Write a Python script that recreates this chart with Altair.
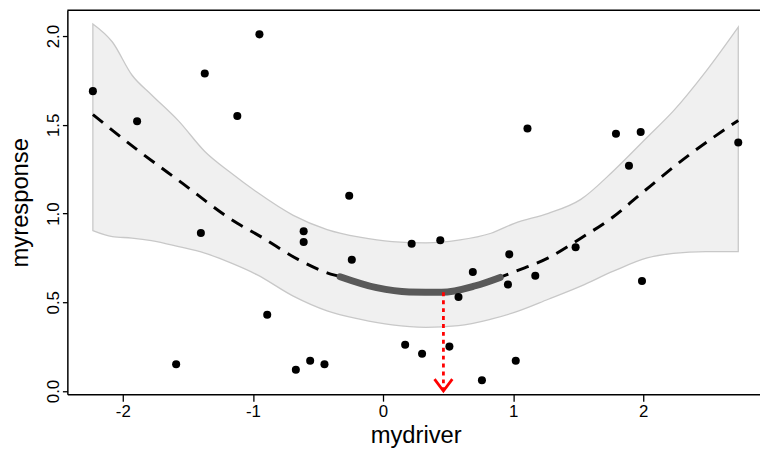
import altair as alt
import pandas as pd

# observed points
pt_x = [-2.23, -1.89, -1.59, -1.40, -1.37, -1.12, -0.95, -0.89, -0.67, -0.61,
        -0.61, -0.56, -0.45, -0.26, -0.24, 0.17, 0.22, 0.30, 0.44, 0.51,
        0.58, 0.69, 0.76, 0.96, 0.97, 1.02, 1.11, 1.17, 1.48, 1.79,
        1.89, 1.98, 1.99, 2.73]
pt_y = [1.69, 1.52, 0.15, 0.89, 1.79, 1.55, 2.01, 0.43, 0.12, 0.90,
        0.84, 0.17, 0.15, 1.10, 0.74, 0.26, 0.83, 0.21, 0.85, 0.25,
        0.53, 0.67, 0.06, 0.60, 0.77, 0.17, 1.48, 0.65, 0.81, 1.45,
        1.27, 1.46, 0.62, 1.40]

# fitted curve (dashed)
fit_x = [-2.23, -1.88, -1.57, -1.12, -0.94, -0.65, -0.43, -0.33, -0.05, 0.20,
         0.45, 0.71, 0.90, 1.01, 1.27, 1.52, 1.77, 1.98, 2.36, 2.73]
fit_y = [1.558, 1.354, 1.186, 0.945, 0.870, 0.740, 0.666, 0.644, 0.582, 0.558,
         0.556, 0.593, 0.640, 0.672, 0.750, 0.861, 0.982, 1.110, 1.335, 1.525]

# highlighted segment (thick gray)
hl_x = [-0.33, -0.05, 0.20, 0.45, 0.71, 0.90]
hl_y = [0.644, 0.582, 0.558, 0.556, 0.593, 0.640]

# confidence ribbon
rib_x = [-2.23, -2.08, -1.93, -1.78, -1.57, -1.37, -1.17, -0.97, -0.69, -0.43,
         -0.18, 0.07, 0.33, 0.58, 0.83, 1.01, 1.27, 1.52, 1.77, 2.03,
         2.23, 2.48, 2.73]
rib_hi = [2.069, 1.967, 1.781, 1.670, 1.521, 1.350, 1.230, 1.121, 0.990, 0.910,
          0.867, 0.842, 0.835, 0.850, 0.889, 0.945, 1.001, 1.080, 1.240, 1.430,
          1.577, 1.800, 2.051]
rib_lo = [0.904, 0.870, 0.862, 0.848, 0.814, 0.777, 0.722, 0.656, 0.535, 0.452,
          0.405, 0.372, 0.359, 0.368, 0.405, 0.443, 0.517, 0.591, 0.675, 0.750,
          0.775, 0.786, 0.786]

# optimum arrow
opt_x = [0.464]
opt_top = [0.556]
opt_bottom = [0.0]

x_ticks = [-2, -1, 0, 1, 2]
y_ticks = [0.0, 0.5, 1.0, 1.5, 2.0]

FONT = "Liberation Sans"
X_DOM = [-2.426, 2.897]
Y_DOM = [-0.0184, 2.1456]
W, H = 700, 388

xs = alt.Scale(domain=X_DOM, nice=False, zero=False)
ys = alt.Scale(domain=Y_DOM, nice=False, zero=False)

x_axis = alt.Axis(values=x_ticks, labelExpr="datum.value", title="mydriver",
                  grid=False, domain=True, domainColor="black", domainWidth=1.5,
                  tickColor="black", tickSize=7, tickWidth=1.3,
                  labelFont=FONT, labelFontSize=17, labelColor="black",
                  labelPadding=16, labelBaseline="alphabetic", labelFlush=False,
                  titleFont=FONT, titleFontSize=24, titleFontWeight="normal",
                  titleColor="black", titleX=352, titleY=49,
                  titleAlign="center", titleBaseline="alphabetic")
y_axis = alt.Axis(values=y_ticks, format=".1f", title="myresponse",
                  grid=False, domain=True, domainColor="black", domainWidth=1.5,
                  tickColor="black", tickSize=5, tickWidth=1.3,
                  labelFont=FONT, labelFontSize=17, labelColor="black",
                  labelAngle=270, labelAlign="center", labelBaseline="alphabetic",
                  labelPadding=4, labelFlush=False,
                  titleFont=FONT, titleFontSize=24, titleFontWeight="normal",
                  titleColor="black", titleAngle=270, titleX=-40, titleY=194,
                  titleAlign="center", titleBaseline="alphabetic")

rib_df = pd.DataFrame({"x": rib_x, "lo": rib_lo, "hi": rib_hi})
fit_df = pd.DataFrame({"x": fit_x, "y": fit_y})
hl_df = pd.DataFrame({"x": hl_x, "y": hl_y})
pt_df = pd.DataFrame({"x": pt_x, "y": pt_y})
opt_df = pd.DataFrame({"x": opt_x, "top": opt_top, "bottom": opt_bottom})

ribbon = alt.Chart(rib_df).mark_area(
    fill="#f0f0f0", stroke="#c8c8c8", strokeWidth=1.3, interpolate="monotone"
).encode(
    x=alt.X("x:Q", scale=xs, axis=x_axis),
    y=alt.Y("lo:Q", scale=ys, axis=y_axis),
    y2="hi:Q",
)

fit = alt.Chart(fit_df).mark_line(
    color="black", strokeWidth=3, strokeDash=[13, 9], interpolate="monotone"
).encode(x=alt.X("x:Q", scale=xs), y=alt.Y("y:Q", scale=ys))

hl = alt.Chart(hl_df).mark_line(
    color="#595959", strokeWidth=7, strokeCap="round", interpolate="monotone"
).encode(x=alt.X("x:Q", scale=xs), y=alt.Y("y:Q", scale=ys))

arrow_line = alt.Chart(opt_df).mark_rule(
    color="#ff0000", strokeWidth=2.8, strokeDash=[4, 4]
).encode(x=alt.X("x:Q", scale=xs), y=alt.Y("top:Q", scale=ys), y2="bottom:Q")

arrow_head = alt.Chart(opt_df).mark_point(
    shape="M-1,-1.33L0,0L1,-1.33", filled=False, stroke="#ff0000",
    strokeWidth=2.8, size=324, opacity=1
).encode(x=alt.X("x:Q", scale=xs), y=alt.Y("bottom:Q", scale=ys))

pts = alt.Chart(pt_df).mark_circle(color="black", size=66, opacity=1).encode(
    x=alt.X("x:Q", scale=xs), y=alt.Y("y:Q", scale=ys)
)

top_frame = alt.Chart(pd.DataFrame({"a": [0]})).mark_rule(
    color="black", strokeWidth=1.5
).encode(x=alt.value(0), x2=alt.value(W), y=alt.value(0))

chart = alt.layer(ribbon, fit, hl, arrow_line, arrow_head, pts, top_frame).properties(
    width=W, height=H,
    autosize=alt.AutoSizeParams(type="none"),
    padding={"left": 60, "top": 0, "right": 0, "bottom": 52},
).configure_view(stroke="transparent")

chart.save("out.html", embed_options={"renderer": "svg", "actions": False})
